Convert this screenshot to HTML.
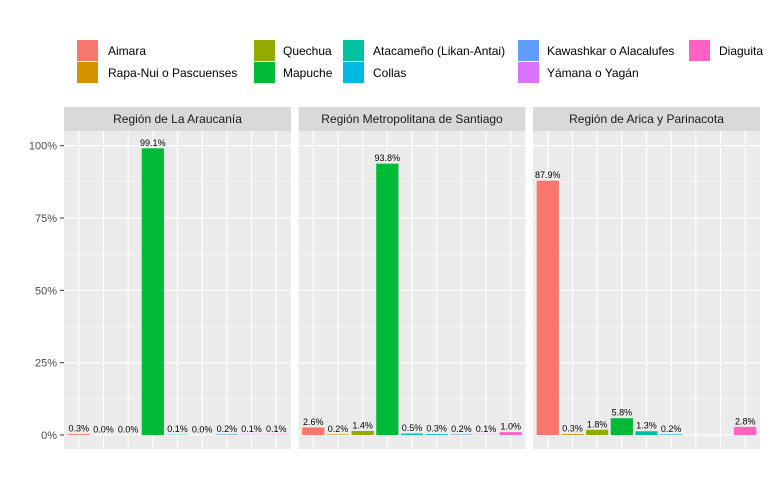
<!DOCTYPE html>
<html><head><meta charset="utf-8"><style>
body{margin:0;background:#fff;}
svg{display:block;font-family:"Liberation Sans",Arial,sans-serif;}
</style></head><body>
<svg id="chart" width="768" height="480"></svg>
<script>
const categories=["Aimara","Rapa-Nui o Pascuenses","Quechua","Mapuche","Atacameño (Likan-Antai)","Collas","Kawashkar o Alacalufes","Yámana o Yagán","Diaguita"];
const colors=["#F8766D","#D39200","#93AA00","#00BA38","#00C19F","#00B9E3","#619CFF","#DB72FB","#FF61C3"];
const regions=["Región de La Araucanía","Región Metropolitana de Santiago","Región de Arica y Parinacota"];
const valsAraucania=[0.3,0.0,0.0,99.1,0.1,0.0,0.2,0.1,0.1];
const valsSantiago=[2.6,0.2,1.4,93.8,0.5,0.3,0.2,0.1,1.0];
const valsArica=[87.9,0.3,1.8,5.8,1.3,0.2,null,null,2.8];
const yTicks=[0,25,50,75,100];
const yTickLabels=["0%","25%","50%","75%","100%"];
const panelVals=[valsAraucania,valsSantiago,valsArica];

const NS="http://www.w3.org/2000/svg";
const svg=document.getElementById('chart');
function mk(t,a,p){const e=document.createElementNS(NS,t);for(const k in a)e.setAttribute(k,a[k]);(p||svg).appendChild(e);return e;}
const top0=131,bot=449,panelW=227,panelX=[64,298.5,533];
const slot=panelW/9.2;
function y(v){return 435-v*2.893;}
function x(i,p){return panelX[p]+0.6*slot+i*slot;}

yTicks.forEach((t,i)=>{
  const tl=mk('text',{x:57,y:y(t)+4,'text-anchor':'end','font-size':11,fill:'#4d4d4d'});
  tl.textContent=yTickLabels[i];
  
  
  mk('line',{x1:60,x2:64,y1:y(t),y2:y(t),stroke:'#333','stroke-width':1});
});

panelVals.forEach((vals,p)=>{
  const g=mk('g',{});
  
  
  const strip=mk('rect',{x:panelX[p],y:107,width:panelW,height:top0-107,fill:'#d9d9d9'},g);
  
  
  const st=mk('text',{x:panelX[p]+panelW/2,y:123,'text-anchor':'middle','font-size':12,fill:'#1a1a1a'},g);
  st.textContent=regions[p];
  
  
  mk('rect',{x:panelX[p],y:top0,width:panelW,height:bot-top0,fill:'#ebebeb'},g);
  [12.5,37.5,62.5,87.5].forEach(t=>mk('line',{x1:panelX[p],x2:panelX[p]+panelW,y1:y(t),y2:y(t),stroke:'#fff','stroke-width':0.5},g));
  yTicks.forEach(t=>mk('line',{x1:panelX[p],x2:panelX[p]+panelW,y1:y(t),y2:y(t),stroke:'#fff','stroke-width':1.1},g));
  categories.forEach((c,i)=>mk('line',{x1:x(i,p),x2:x(i,p),y1:top0,y2:bot,stroke:'#fff','stroke-width':1.1},g));
  vals.forEach((v,i)=>{
    if(v===null)return;
    const b=mk('rect',{x:x(i,p)-slot*0.45,y:y(v),width:slot*0.9,height:Math.max(y(0)-y(v),0),fill:colors[i]},g);
    
    
    const l=mk('text',{x:x(i,p),y:y(v)-2.5,'text-anchor':'middle','font-size':9,fill:'#000'},g);
    l.textContent=v.toFixed(1)+'%';
    
    
  });
});

const legX=[77,77,254,254,343,343,518,518,689];
const legY=[40,62,40,62,40,62,40,62,40];
const txtX=[108,108,283,283,373,373,547,547,719];
categories.forEach((c,i)=>{
  const k=mk('rect',{x:legX[i],y:legY[i],width:21,height:21,fill:colors[i]});
  
  
  const t=mk('text',{x:txtX[i],y:legY[i]+15,'font-size':12,fill:'#000'});
  t.textContent=c;
  
  
});
</script>
</body></html>
